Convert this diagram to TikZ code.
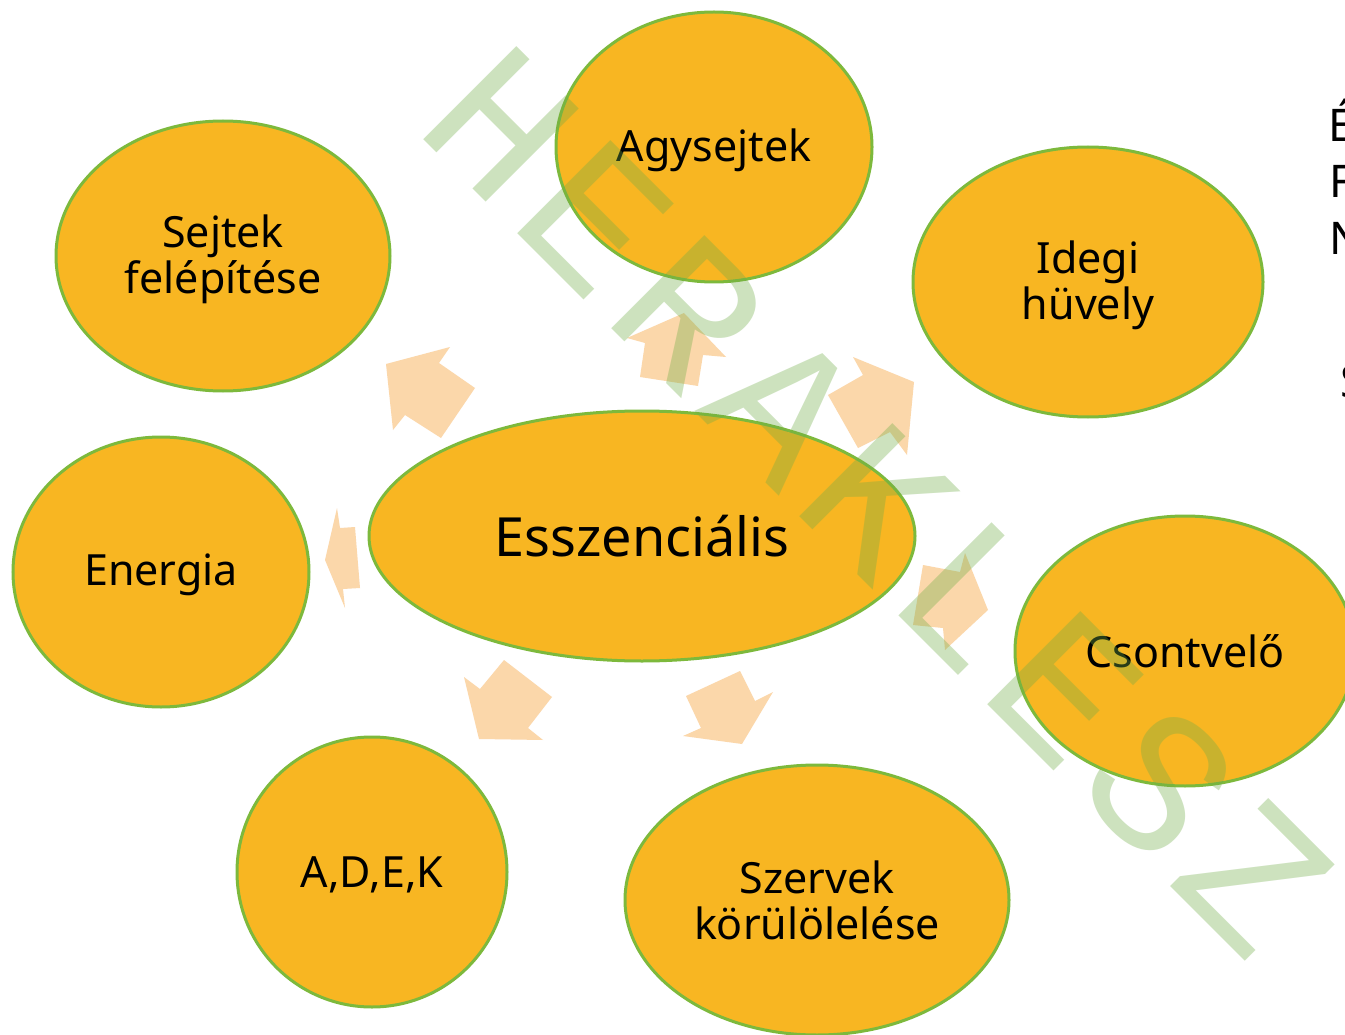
\documentclass[tikz,border=0pt]{standalone}
\usepackage{fontspec}
\setmainfont{Noto Sans}
\newfontfamily\wmfont{Liberation Mono}[LetterSpace=6.5]
\usetikzlibrary{shapes.geometric}
\definecolor{fillor}{RGB}{248,182,34}
\definecolor{edgegr}{RGB}{125,185,60}
\definecolor{arrcol}{RGB}{251,215,170}
\definecolor{wmcol}{RGB}{112,173,71}
\tikzset{
  bubble/.style={ellipse, draw=edgegr, fill=fillor, line width=3pt, inner sep=0pt},
  btext/.style={align=center, font=\fontsize{43}{46}\selectfont, text=black, inner sep=0pt},
  blockarrow/.style={fill=arrcol, draw=none},
  wmark/.style={font=\wmfont\fontsize{200}{200}\selectfont, text=wmcol, inner sep=0pt},
  sidetext/.style={font=\fontsize{45}{50}\selectfont, anchor=base west, inner sep=0pt, text=black}
}
\begin{document}
\begin{tikzpicture}[x=1pt, y=-1pt]
\useasboundingbox (0,0) rectangle (1345,1035);
\clip (0,0) rectangle (1345,1035);
\fill[white] (0,0) rectangle (1345,1035);
% block arrows
\fill[blockarrow] (386,364) -- (450,347) -- (439,363) -- (475,388) -- (441,438) -- (405,415) -- (393,430) -- cycle;
\fill[blockarrow] (684,313) -- (726,357) -- (703,355) -- (698,386) -- (640,377) -- (645,343) -- (627,338) -- cycle;
\fill[blockarrow] (853,357) -- (914,382) -- (907,455) -- (890,432) -- (858,448) -- (828,395) -- (863,375) -- cycle;
\fill[blockarrow] (923,565) -- (960,572) -- (965,553) -- (988,610) -- (945,650) -- (943,628) -- (913,625) -- cycle;
\fill[blockarrow] (325,560) -- (337,508) -- (340,528) -- (355,527) -- (360,588) -- (343,589) -- (345,608) -- cycle;
\fill[blockarrow] (464,677) -- (480,689) -- (504,660) -- (552,697) -- (528,728) -- (543,740) -- (479,739) -- cycle;
\fill[blockarrow] (686,696) -- (740,671) -- (755,701) -- (773,692) -- (742,744) -- (683,736) -- (701,728) -- cycle;
% bubbles
\node[bubble, minimum width=316pt, minimum height=270pt] (agy) at (714,147) {};
\node[bubble, minimum width=334pt, minimum height=270pt] (sejt) at (223,256) {};
\node[bubble, minimum width=350pt, minimum height=270pt] (ideg) at (1088,282) {};
\node[bubble, minimum width=296pt, minimum height=270pt] (ener) at (161,572) {};
\node[bubble, minimum width=546pt, minimum height=250pt] (essz) at (642,536) {};
\node[bubble, minimum width=340pt, minimum height=270pt] (csont) at (1185,651) {};
\node[bubble, minimum width=270pt, minimum height=270pt] (adek) at (372,872) {};
\node[bubble, minimum width=384pt, minimum height=270pt] (szerv) at (817,900) {};
% bubble texts
\node[btext] (tagy) at ([yshift=-3pt]agy.center) {Agysejtek};
\node[btext] (tsejt) at ([yshift=-3pt]sejt.center) {Sejtek\\felépítése};
\node[btext] (tideg) at ([yshift=-3pt]ideg.center) {Idegi\\hüvely};
\node[btext] (tener) at ([yshift=-3pt]ener.center) {Energia};
\node[btext, font=\fontsize{54}{58}\selectfont] (tessz) at (essz.center) {Esszenciális};
\node[btext] (tcsont) at (csont.center) {Csontvelő};
\node[btext] (tadek) at ([yshift=-3pt]adek.center) {A,D,E,K};
\node[btext] (tszerv) at (szerv.center) {Szervek\\körülölelése};
% cut-off side text
\node[sidetext, font=\fontsize{45}{50}\selectfont\bfseries] (s1) at (1328,142) {É};
\node[sidetext] (s2) at (1329,198) {F};
\node[sidetext] (s3) at (1329,255) {N};
\node[sidetext] (s4) at (1340,397) {S};
% watermark
\begin{scope}[transparency group, opacity=0.35]
\node[wmark, rotate=-45] (wm) at (878,501) {HERAKLESZ};
\end{scope}
\end{tikzpicture}
\end{document}
